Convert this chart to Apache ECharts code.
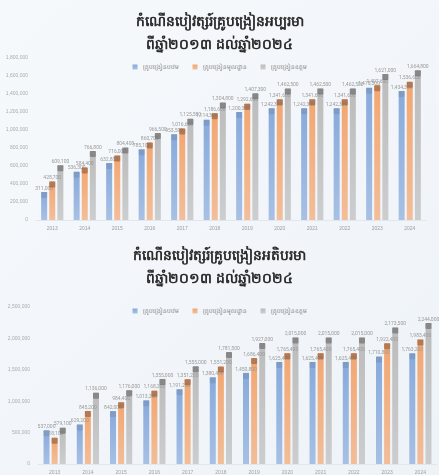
<!DOCTYPE html>
<html>
<head>
<meta charset="utf-8">
<script src="https://cdn.jsdelivr.net/npm/echarts@6/dist/echarts.min.js"></script>
<style>
html, body { margin: 0; padding: 0; background: #f3f7fb; }
#chart { width: 439px; height: 475px; }
</style>
</head>
<body>
<div id="chart"></div>
<script>
// ឆ្នាំ
var years = ['2013','2014','2015','2016','2017','2018','2019','2020','2021','2022','2023','2024'];
var seriesNames = ['គ្រូបង្រៀនបឋម', 'គ្រូបង្រៀនមូលដ្ឋាន', 'គ្រូបង្រៀនឧត្តម'];

// អប្បរមា (minimum)
var minBasic = [311000, 536300, 632800, 785100, 953500, 1114300, 1200300, 1242300, 1242300, 1242300, 1470300, 1434300];
var minMiddle = [428700, 584400, 716000, 860700, 1016600, 1186600, 1292600, 1341600, 1341600, 1341600, 1497600, 1536600];
var minHigh = [609100, 766800, 804400, 966500, 1125500, 1304800, 1407300, 1462500, 1462500, 1462500, 1621000, 1664800];

// អតិបរមា (maximum)
var maxBasic = [537000, 629200, 842000, 1013200, 1191200, 1380400, 1450800, 1625400, 1625400, 1625400, 1710800, 1763200];
var maxMiddle = [418100, 845200, 984400, 1168200, 1351200, 1551200, 1686400, 1765400, 1765400, 1765400, 1922400, 1983400];
var maxHigh = [579100, 1136000, 1176000, 1355000, 1555000, 1781500, 1927000, 2015000, 2015000, 2015000, 2173500, 2244000];

var colors = ['#88aadb', '#f3a670', '#bcbcbc'];
var capColors = ['rgba(90,110,140,0.25)', 'rgba(140,90,60,0.6)', 'rgba(100,100,100,0.6)'];

var chart = echarts.init(document.getElementById('chart'));

function fmt(v) {
    return v.toLocaleString('en-US');
}

function makeBar(name, data, idx, axisIdx) {
    return {
        name: name,
        type: 'bar',
        xAxisIndex: axisIdx,
        yAxisIndex: axisIdx,
        barWidth: 6,
        barGap: '35%',
        itemStyle: {
            color: new echarts.graphic.LinearGradient(0, 0, 0, 1, [
                { offset: 0, color: colors[idx] },
                { offset: 1, color: echarts.color.modifyAlpha(colors[idx], 0.7) }
            ])
        },
        label: {
            show: true,
            position: 'top',
            distance: -6,
            formatter: function (p) {
                return '{v|' + fmt(p.value) + '}\n{c|}';
            },
            rich: {
                v: { fontSize: 5, color: '#9a9a9a', fontFamily: 'Roboto', align: 'center', padding: [0, 0, 1, 0] },
                c: { width: 6, height: 6, backgroundColor: capColors[idx], borderRadius: 1, align: 'center' }
            }
        },
        data: data
    };
}

function axisX(gridIdx) {
    return {
        type: 'category',
        gridIndex: gridIdx,
        data: years,
        axisTick: { show: false },
        axisLine: { lineStyle: { color: '#e3e7ec' } },
        axisLabel: { fontSize: 5, color: '#a0a0a0', margin: 6 }
    };
}

function axisY(gridIdx, max, interval) {
    return {
        type: 'value',
        gridIndex: gridIdx,
        min: 0,
        max: max,
        interval: interval,
        splitLine: { show: false },
        axisLine: { show: false },
        axisTick: { show: false },
        axisLabel: { fontSize: 5, color: '#ababab', formatter: fmt, margin: 8 }
    };
}

var titleStyle = { fontSize: 14, fontWeight: 'bold', color: '#2b2b2b', lineHeight: 23, fontFamily: 'Noto Sans' };

chart.setOption({
    backgroundColor: new echarts.graphic.LinearGradient(0, 0, 1, 1, [
        { offset: 0, color: '#f6f9fc' },
        { offset: 1, color: '#eef3f8' }
    ]),
    title: [
        { text: 'កំណើនបៀវត្សរ៍គ្រូបង្រៀនអប្បរមា\nពីឆ្នាំ២០១៣ ដល់ឆ្នាំ២០២៤', left: 'center', top: 6, textStyle: titleStyle },
        { text: 'កំណើនបៀវត្សរ៍គ្រូបង្រៀនអតិបរមា\nពីឆ្នាំ២០១៣ ដល់ឆ្នាំ២០២៤', left: 'center', top: 240, textStyle: titleStyle }
    ],
    legend: [
        { data: seriesNames, top: 59, left: 'center', itemWidth: 5, itemHeight: 5, itemGap: 14, icon: 'rect',
          textStyle: { fontSize: 6, color: '#808080' } },
        { data: seriesNames, top: 303, left: 'center', itemWidth: 5, itemHeight: 5, itemGap: 14, icon: 'rect',
          textStyle: { fontSize: 6, color: '#808080' } }
    ],
    grid: [
        { left: 36, right: 13, top: 58, height: 162 },
        { left: 38, right: 2, top: 307, height: 160 }
    ],
    xAxis: [axisX(0), axisX(1)],
    yAxis: [axisY(0, 1800000, 200000), axisY(1, 2500000, 500000)],
    series: [
        makeBar(seriesNames[0], minBasic, 0, 0),
        makeBar(seriesNames[1], minMiddle, 1, 0),
        makeBar(seriesNames[2], minHigh, 2, 0),
        makeBar(seriesNames[0], maxBasic, 0, 1),
        makeBar(seriesNames[1], maxMiddle, 1, 1),
        makeBar(seriesNames[2], maxHigh, 2, 1)
    ]
});
</script>
</body>
</html>
